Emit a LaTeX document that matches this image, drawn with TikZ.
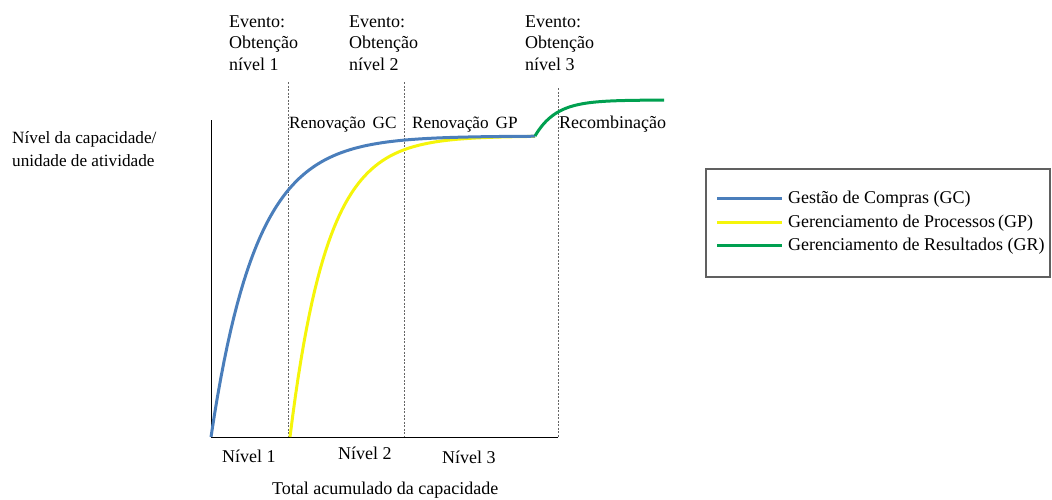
\documentclass[tikz,border=0pt]{standalone}
\usepackage{fontspec}
\setmainfont{Liberation Serif}
\definecolor{gcblue}{HTML}{4A7EBB}
\definecolor{gpyellow}{HTML}{F5F50A}
\definecolor{grgreen}{HTML}{00A050}
\begin{document}
\begin{tikzpicture}[x=1pt,y=-1pt,
  lbl/.style={inner sep=0pt,anchor=base west,align=left,
    font=\fontsize{18}{21.5}\selectfont},
  small/.style={font=\fontsize{17.2}{23}\selectfont},
  axis/.style={black,line width=1pt},
  divider/.style={gray!80!black,line width=0.9pt,dash pattern=on 2pt off 1.5pt},
  curve/.style={line width=3pt,line join=round},
  legendbox/.style={draw=gray!75!black,line width=1.4pt}]
\useasboundingbox (0,0) rectangle (1052,499);

% axes
\coordinate (o) at (211,437);
\coordinate (ytop) at (211,120);
\coordinate (xend) at (558,437);
\draw[axis] (ytop) -- (o) -- (xend);

% dashed dividers between the stages
\coordinate (d1t) at (288,82);  \coordinate (d1b) at (288,437);
\coordinate (d2t) at (404,82);  \coordinate (d2b) at (404,437);
\coordinate (d3t) at (558,88);  \coordinate (d3b) at (558,437);
\draw[divider] (d1t) -- (d1b);
\draw[divider] (d2t) -- (d2b);
\draw[divider] (d3t) -- (d3b);

% capability curves
\draw[curve,gpyellow] plot[domain=290:535,samples=90]
  (\x,{437-301*(1-exp(-(\x-290)/37))});
\draw[curve,gcblue] plot[domain=211:535,samples=100]
  (\x,{437-301*(1-exp(-(\x-211)/45))});
\draw[curve,grgreen] plot[domain=535:664,samples=60]
  (\x,{136-36*(1-exp(-(\x-535)/21))});

% event labels (multi-line nodes sit on the baseline of their last line)
\node[lbl] (ev1) at (229,70) {Evento:\\Obtenção\\nível 1};
\node[lbl] (ev2) at (349,70) {Evento:\\Obtenção\\nível 2};
\node[lbl] (ev3) at (525,70) {Evento:\\Obtenção\\nível 3};

% stage labels
\node[lbl,small] (rgc) at (289,128) {Renovação\hspace{7pt}GC};
\node[lbl,small] (rgp) at (412,128) {Renovação\hspace{7pt}GP};
\node[lbl] (rec) at (559,128) {Recombinação};

% axis labels
\node[lbl,small] (ylab) at (12,166)
  {Nível da capacidade/\\unidade de atividade};
\node[lbl] (n1) at (222,462) {Nível 1};
\node[lbl] (n2) at (338,459) {Nível 2};
\node[lbl] (n3) at (442,463) {Nível 3};
\node[lbl] (xlab) at (272,494) {Total acumulado da capacidade};

% legend
\draw[legendbox] (706,169) rectangle (1050,277);
\coordinate (l1a) at (717,198); \coordinate (l1b) at (782,198);
\coordinate (l2a) at (717,222); \coordinate (l2b) at (782,222);
\coordinate (l3a) at (717,245); \coordinate (l3b) at (782,245);
\draw[curve,gcblue] (l1a) -- (l1b);
\draw[curve,gpyellow] (l2a) -- (l2b);
\draw[curve,grgreen] (l3a) -- (l3b);
\node[lbl] (t1) at (788,203) {Gestão de Compras (GC)};
\node[lbl] (t2) at (788,227) {Gerenciamento de Processos\,(GP)};
\node[lbl] (t3) at (788,250) {Gerenciamento de Resultados (GR)};
\end{tikzpicture}
\end{document}
